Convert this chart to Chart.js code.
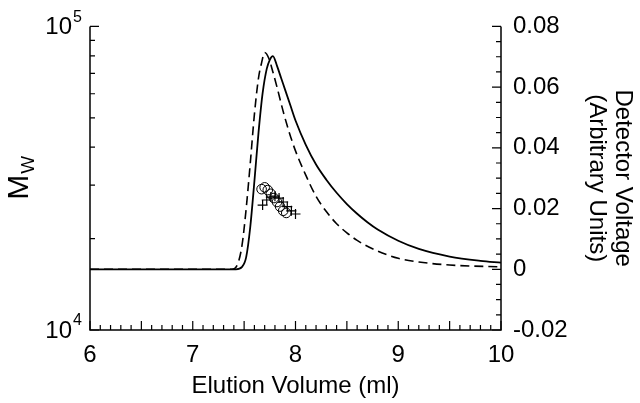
<!DOCTYPE html>
<html>
<head>
<meta charset="utf-8">
<script src="https://cdn.jsdelivr.net/npm/chart.js@4"></script>
<style>
  body { margin: 0; background: #fff; }
  canvas { display: block; }
</style>
</head>
<body>
<canvas id="chart" width="640" height="403"></canvas>
<script>
// detector traces (right axis)
var solidVol  = [6, 7.0, 7.42, 7.48, 7.52, 7.56, 7.6, 7.64, 7.68, 7.72, 7.75, 7.78, 7.82, 7.86, 7.9, 7.95, 8.0, 8.1, 8.2, 8.3, 8.4, 8.5, 8.6, 8.7, 8.8, 9.0, 9.2, 9.5, 9.8, 10];
var solidVolt = [0, 0, 0, 0.0008, 0.004, 0.014, 0.029, 0.045, 0.058, 0.066, 0.069, 0.0702, 0.067, 0.063, 0.059, 0.054, 0.049, 0.041, 0.0345, 0.0295, 0.0252, 0.0215, 0.0183, 0.0155, 0.0131, 0.0094, 0.0067, 0.0042, 0.0028, 0.0022];

var dashVol  = [6, 7.0, 7.38, 7.44, 7.48, 7.52, 7.56, 7.6, 7.64, 7.67, 7.70, 7.74, 7.78, 7.82, 7.88, 7.94, 8.0, 8.1, 8.2, 8.3, 8.4, 8.5, 8.6, 8.8, 9.0, 9.2, 9.5, 10];
var dashVolt = [0, 0, 0, 0.002, 0.008, 0.02, 0.035, 0.051, 0.063, 0.068, 0.0714, 0.0695, 0.065, 0.06, 0.052, 0.045, 0.039, 0.031, 0.024, 0.019, 0.015, 0.012, 0.0095, 0.006, 0.0036, 0.0024, 0.0014, 0.0008];

// molecular weight points (left axis)
var circleVol = [7.67, 7.70, 7.73, 7.76, 7.79, 7.82, 7.85, 7.88, 7.91];
var circleMw  = [29100, 29500, 28900, 28100, 27200, 26400, 25500, 24700, 24300];

var plusVol = [7.68, 7.72, 7.76, 7.80, 7.84, 7.88, 7.92, 7.96, 8.00];
var plusMw  = [25800, 26800, 27400, 27600, 27200, 26400, 25500, 24700, 24100];

var xTicks = [6, 7, 8, 9, 10];
var voltTicks = [-0.02, 0, 0.02, 0.04, 0.06, 0.08];
var mwTicks = [10000, 100000];

function pts(xs, ys) {
    return xs.map(function (x, i) { return {x: x, y: ys[i]}; });
}

var FONT = "'Liberation Sans', Arial, Helvetica, sans-serif";
Chart.defaults.font.family = FONT;
Chart.defaults.color = '#000';

// axis lines, inward ticks, left log labels and the M_W title
var axesPlugin = {
    id: 'axes',
    afterDraw: function (chart) {
        var c = chart.ctx;
        var a = chart.chartArea;
        var xs = chart.scales.x, yv = chart.scales.volt, ym = chart.scales.mw;
        c.save();
        c.strokeStyle = '#000';
        c.lineWidth = 1.5;
        c.beginPath();
        c.moveTo(a.left, a.top); c.lineTo(a.left, a.bottom); c.lineTo(a.right, a.bottom); c.lineTo(a.right, a.top);
        c.stroke();

        c.lineWidth = 1.2;
        c.beginPath();
        for (var i = 0; i <= 40; i++) {
            var v = 6 + i * 0.1;
            var px = xs.getPixelForValue(v);
            var len = (i % 5 === 0) ? 9 : 5;
            c.moveTo(px, a.bottom); c.lineTo(px, a.bottom - len);
        }
        for (var j = 0; j <= 20; j++) {
            var vv = -0.02 + j * 0.005;
            var py = yv.getPixelForValue(vv);
            var l2 = (j % 4 === 0) ? 9 : 5;
            c.moveTo(a.right, py); c.lineTo(a.right - l2, py);
        }
        for (var k = 1; k <= 10; k++) {
            var my = ym.getPixelForValue(k * 10000);
            var l3 = (k === 1 || k === 10) ? 9 : 5;
            c.moveTo(a.left, my); c.lineTo(a.left + l3, my);
        }
        c.stroke();

        c.fillStyle = '#000';
        c.textBaseline = 'middle';
        mwTicks.forEach(function (m) {
            var y = ym.getPixelForValue(m);
            var e = Math.round(Math.log10(m));
            c.font = '24px ' + FONT;
            c.textAlign = 'right';
            c.fillText('10', 72, y + 1);
            c.font = '16px ' + FONT;
            c.textAlign = 'left';
            c.fillText(String(e), 73, y - 9);
        });

        c.translate(20, (a.top + a.bottom) / 2);
        c.rotate(-Math.PI / 2);
        c.textAlign = 'left';
        c.font = '30px ' + FONT;
        var mw = c.measureText('M').width;
        var wFont = '19px ' + FONT;
        c.save();
        c.font = wFont;
        var ww = c.measureText('W').width;
        c.restore();
        var x0 = -(mw + ww) / 2;
        c.fillText('M', x0, 0);
        c.font = wFont;
        c.fillText('W', x0 + mw + 1, 9);
        c.restore();
    }
};

var ctx = document.getElementById('chart').getContext('2d');
var chart = new Chart(ctx, {
    type: 'line',
    data: {
        datasets: [
            {
                data: pts(solidVol, solidVolt),
                yAxisID: 'volt',
                borderColor: '#000',
                borderWidth: 1.8,
                pointRadius: 0,
                fill: false,
                cubicInterpolationMode: 'monotone'
            },
            {
                data: pts(dashVol, dashVolt),
                yAxisID: 'volt',
                borderColor: '#000',
                borderWidth: 1.6,
                borderDash: [9, 5],
                pointRadius: 0,
                fill: false,
                cubicInterpolationMode: 'monotone'
            },
            {
                data: pts(circleVol, circleMw),
                yAxisID: 'mw',
                showLine: false,
                pointStyle: 'circle',
                pointRadius: 4.8,
                pointBorderWidth: 1,
                pointBorderColor: '#000',
                pointBackgroundColor: 'rgba(0,0,0,0)'
            },
            {
                data: pts(plusVol, plusMw),
                yAxisID: 'mw',
                showLine: false,
                pointStyle: 'cross',
                pointRadius: 5,
                pointBorderWidth: 1.2,
                pointBorderColor: '#000'
            }
        ]
    },
    options: {
        responsive: false,
        animation: false,
        layout: { padding: { top: 22, left: 0, right: 0, bottom: 0 } },
        plugins: { legend: { display: false }, tooltip: { enabled: false } },
        scales: {
            x: {
                type: 'linear',
                min: 6,
                max: 10,
                grid: { display: false, drawTicks: false },
                border: { display: false },
                afterBuildTicks: function (s) { s.ticks = xTicks.map(function (v) { return {value: v}; }); },
                afterFit: function (s) { s.height = 73; },
                ticks: { font: { size: 24 }, color: '#000', padding: 11, maxRotation: 0 },
                title: { display: true, text: 'Elution Volume (ml)', font: { size: 24 }, color: '#000', padding: { top: 0, bottom: 2 } }
            },
            mw: {
                type: 'logarithmic',
                position: 'left',
                min: 10000,
                max: 100000,
                grid: { display: false, drawTicks: false },
                border: { display: false },
                ticks: { display: false },
                afterFit: function (s) { s.width = 90; }
            },
            volt: {
                type: 'linear',
                position: 'right',
                min: -0.02,
                max: 0.08,
                grid: { display: false, drawTicks: false },
                border: { display: false },
                afterBuildTicks: function (s) { s.ticks = voltTicks.map(function (v) { return {value: v}; }); },
                afterFit: function (s) { s.width = 139; },
                ticks: {
                    font: { size: 24 },
                    color: '#000',
                    padding: 12,
                    callback: function (v) { return v === 0 ? '0' : v.toFixed(2); }
                },
                title: {
                    display: true,
                    text: ['Detector Voltage', '(Arbitrary Units)'],
                    font: { size: 24, lineHeight: 1.1 },
                    color: '#000',
                    padding: { top: 4, bottom: 0 }
                }
            }
        }
    },
    plugins: [axesPlugin]
});
</script>
</body>
</html>
